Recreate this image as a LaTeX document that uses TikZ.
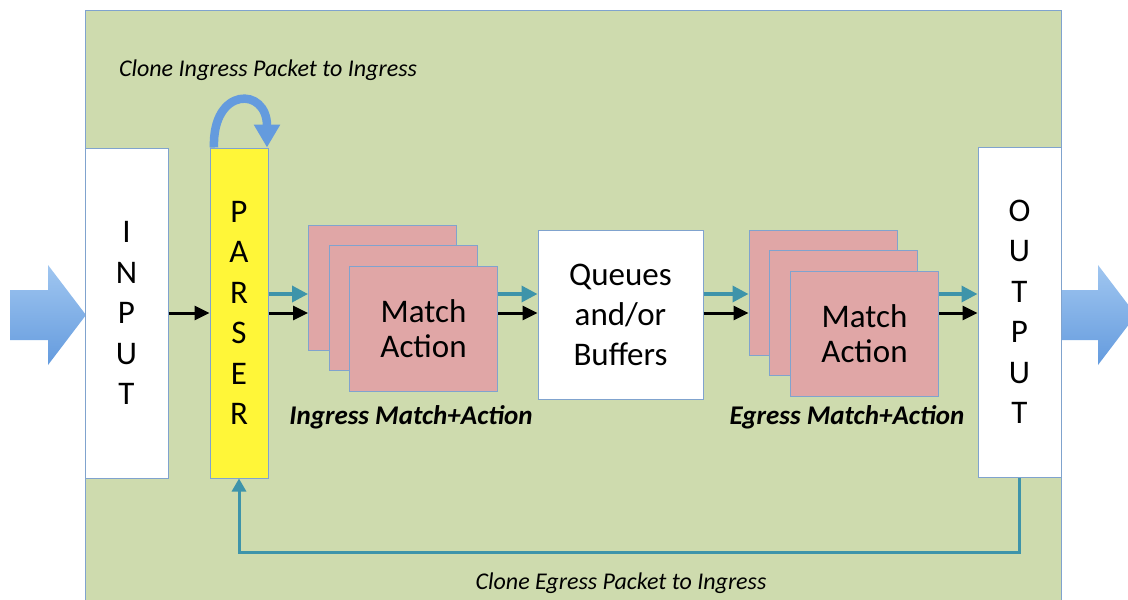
\documentclass[tikz,border=0pt]{standalone}
\usepackage{fontspec}
\setmainfont{Carlito}
\usetikzlibrary{positioning}
\usetikzlibrary{calc}
\usetikzlibrary{arrows.meta}
\definecolor{bggreen}{RGB}{206,219,174}
\definecolor{edgeblue}{RGB}{128,163,206}
\definecolor{mapink}{RGB}{224,166,166}
\definecolor{parseryellow}{RGB}{255,246,56}
\definecolor{tealline}{RGB}{62,148,170}
\definecolor{bigblue}{RGB}{100,155,222}
\definecolor{lightblue}{RGB}{160,198,240}
\tikzstyle{portbox}=[rectangle,draw=edgeblue,fill=white,line width=1pt,minimum width=83pt,minimum height=330pt,inner sep=0pt,align=center,font=\fontsize{33}{40.5}\selectfont]
\tikzstyle{parserbox}=[portbox,fill=parseryellow,minimum width=58pt]
\tikzstyle{mabox}=[rectangle,draw=edgeblue,fill=mapink,line width=1pt,minimum width=148pt,minimum height=125pt,inner sep=0pt,align=center,font=\fontsize{33}{35}\selectfont]
\tikzstyle{queuebox}=[rectangle,draw=edgeblue,fill=white,line width=1pt,minimum width=165pt,minimum height=169pt,inner sep=0pt,align=center,font=\fontsize{33}{40}\selectfont]
\tikzstyle{edge} = [draw,line width=3pt,-{Triangle[length=15pt,width=14pt]}]
\tikzstyle{tealedge} = [draw=tealline,line width=3.5pt,-{Triangle[length=16pt,width=16pt]}]
\tikzstyle{feedback} = [draw=tealline,line width=3pt,-{Triangle[length=13pt,width=14pt]}]
\tikzstyle{loopedge} = [draw=bigblue,line width=8.5pt,-{Triangle[length=23pt,width=25pt]}]
\tikzstyle{clonelabel} = [font=\fontsize{24}{27}\selectfont\itshape]
\tikzset{stagelabel/.style={font=\fontsize{27}{30}\selectfont\bfseries\itshape}}

\begin{document}
\begin{tikzpicture}[x=1pt,y=1pt]

  \useasboundingbox (0,0) rectangle (1128,-600);

  % switch area
  \draw[draw=edgeblue,fill=bggreen,line width=1pt] (85,-10) rectangle (1061,-603);

  % packets in and out
  \shade[top color=lightblue,bottom color=bigblue] (10,-290) -- (48,-290) -- (48,-265) -- (86,-315) -- (48,-365) -- (48,-340) -- (10,-340) -- cycle;
  \shade[top color=lightblue,bottom color=bigblue] (1061,-290) -- (1098,-290) -- (1098,-265) -- (1136,-315) -- (1098,-365) -- (1098,-340) -- (1061,-340) -- cycle;

  \node[portbox] (input) at (126.5,-313) {I\\N\\P\\U\\T};
  \node[parserbox] (parser) at (239,-313) {P\\A\\R\\S\\E\\R};
  \node[portbox] (output) at (1019.5,-312) {O\\U\\T\\P\\U\\T};
  \node[queuebox] (queues) at (620.5,-314.5) {Queues\\and/or\\Buffers};

   \foreach \i/\x/\y/\label in {1/382.5/-287.5/{}, 2/403/-308/{}, 3/423.5/-328.5/{Match\\Action}}
          \node[mabox] (ima\i) at (\x,\y) {\label};

   \foreach \i/\x/\y/\label in {1/823/-292.5/{}, 2/843.5/-313/{}, 3/864.5/-333.5/{Match\\Action}}
          \node[mabox] (ema\i) at (\x,\y) {\label};

  \draw[edge] (input.east) -- (parser.west);

  \foreach \source/\dest in {parser/ima1, ima3/queues, queues/ema1, ema3/output} {
         \draw[edge] (\source.east |- input.east) -- (\dest.west |- input.east);
         \draw[tealedge] ($(\source.east |- input.east)+(0,19)$) -- ($(\dest.west |- input.east)+(0,19)$);
  }

  % recirculation
  \draw[loopedge] ([xshift=-25pt]parser.north) .. controls +(-2,61) and +(0,61) .. ([xshift=28pt]parser.north);
  \draw[feedback] (output.south) -- ++(0,-75) -| (parser.south);

  \node[clonelabel] (toplabel) at (268,-70) {Clone Ingress Packet to Ingress};
  \node[clonelabel] (bottomlabel) at (621,-583) {Clone Egress Packet to Ingress};
  \node[stagelabel] (ilabel) at (411,-417) {Ingress Match+Action};
  \node[stagelabel] (elabel) at (847,-417) {Egress Match+Action};

\end{tikzpicture}
\end{document}
